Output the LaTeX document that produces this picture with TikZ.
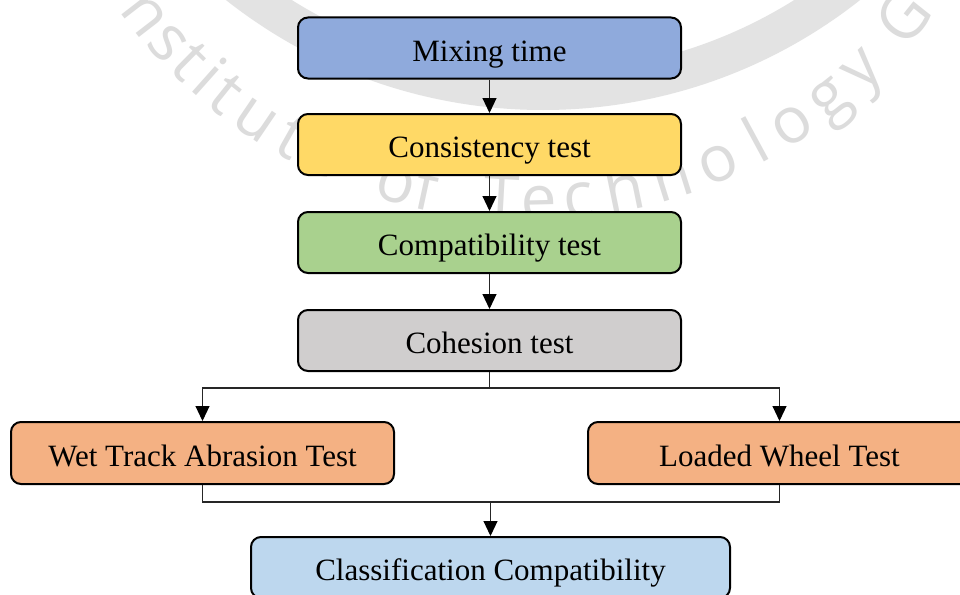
\documentclass[tikz,border=0pt]{standalone}
\usepackage{fontspec}
\setmainfont{Liberation Serif}
\newfontfamily\wmfont{Open Sans}
\usetikzlibrary{arrows.meta}
\definecolor{cmix}{HTML}{8FAADC}
\definecolor{ccons}{HTML}{FFD966}
\definecolor{ccompat}{HTML}{A9D18E}
\definecolor{ccoh}{HTML}{D0CECE}
\definecolor{corange}{HTML}{F4B183}
\definecolor{cclass}{HTML}{BDD7EE}
\definecolor{wmband}{HTML}{E3E3E3}
\definecolor{wmtext}{HTML}{DCDCDC}
\tikzset{
  stepbox/.style={draw=black, line width=2pt, rounded corners=10pt,
    minimum width=383pt, minimum height=61pt, inner sep=0pt,
    text height=26pt, text depth=0pt, font=\fontsize{31}{36}\selectfont},
  conn/.style={draw=black!85, line width=1.1pt},
  arr/.style={conn, -{Triangle[width=14pt,length=15pt,color=black]}},
  wmletter/.style={inner sep=0pt, anchor=base, text=wmtext,
    font=\wmfont\fontsize{64}{68}\selectfont}
}
\begin{document}
\begin{tikzpicture}[x=1pt,y=1pt]
\useasboundingbox (0,0) rectangle (960,-594);
\clip (0,0) rectangle (960,-594);
\fill[white] (0,0) rectangle (960,-594);
% watermark
\coordinate (ringc) at (543,402);
\fill[wmband, even odd rule] (ringc) circle (512) (ringc) circle (474);
\coordinate (wmc) at (528,281);
\foreach \ch/\ang [count=\i] in {I/213.0, n/217.7, s/222.0, t/225.4, i/228.3, t/231.2, u/235.8, t/240.6, e/244.9, o/254.2, f/257.8, T/266.8, e/271.3, c/276.0, h/281.6, n/287.4, o/293.2, l/298.4, o/303.0, g/308.4, y/313.6, G/321.5}
  \node[wmletter, rotate=\ang+90] (wm\i) at ([shift={(\ang:502)}]wmc) {\ch};
% boxes
\node[stepbox, fill=cmix] (mix) at (489.5,-48) {Mixing time};
\node[stepbox, fill=ccons] (cons) at (489.5,-144.5) {Consistency test};
\node[stepbox, fill=ccompat] (compat) at (489.5,-242.5) {Compatibility test};
\node[stepbox, fill=ccoh] (coh) at (489.5,-340.5) {Cohesion test};
\node[stepbox, fill=corange, minimum height=62pt] (wtat) at (202.5,-453) {Wet Track Abrasion Test};
\node[stepbox, fill=corange, minimum height=62pt] (lwt) at (779.5,-453) {Loaded Wheel Test};
\node[stepbox, fill=cclass, minimum width=479pt] (cls) at (490.5,-567.5) {Classification Compatibility};
% connectors
\draw[arr] (mix.south) -- (cons.north);
\draw[arr] (cons.south) -- (compat.north);
\draw[arr] (compat.south) -- (coh.north);
\coordinate (j1) at ([yshift=-16pt]coh.south);
\draw[conn] (coh.south) -- (j1);
\draw[arr] (j1) -| (wtat.north);
\draw[arr] (j1) -| (lwt.north);
\coordinate (j2) at (cls.north |- 0,-502);
\draw[conn] (wtat.south) |- (j2);
\draw[conn] (lwt.south) |- (j2);
\draw[arr] (j2) -- (cls.north);
\end{tikzpicture}
\end{document}
